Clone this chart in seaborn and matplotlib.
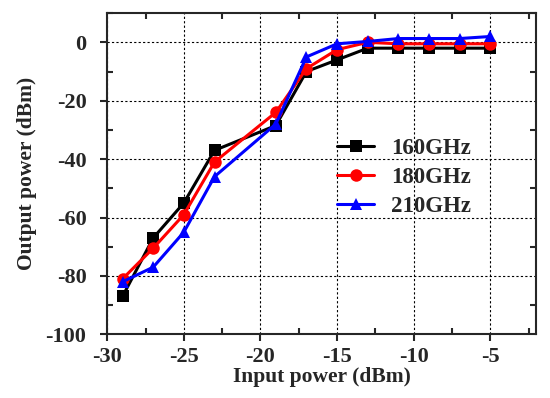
import pandas as pd
import seaborn as sns
import matplotlib.pyplot as plt
from matplotlib.ticker import MultipleLocator

# Data
input_power = [-29, -27, -25, -23, -19, -17, -15, -13, -11, -9, -7, -5]
out_160 = [-87, -67, -55, -37, -28.5, -10, -6, -2, -2, -2, -2, -2]
out_180 = [-81, -70.5, -59, -41, -24, -9, -2.5, 0, -0.5, -0.5, -0.5, -0.5]
out_210 = [-82, -77, -65, -46, -28, -5, -0.5, 0.3, 1.3, 1.3, 1.3, 2]
series_names = ['160GHz', '180GHz', '210GHz']

df = pd.concat([
    pd.DataFrame({'Input': input_power, 'Output': vals, 'Freq': name})
    for name, vals in zip(series_names, [out_160, out_180, out_210])
], ignore_index=True)

sns.set_theme(style="ticks")
plt.rcParams['font.family'] = ['Liberation Serif', 'DejaVu Serif']
plt.rcParams['font.weight'] = 'bold'
plt.rcParams['axes.unicode_minus'] = False

fig, ax = plt.subplots(figsize=(5.5, 3.98), dpi=100)

palette = {'160GHz': 'black', '180GHz': 'red', '210GHz': 'blue'}
markers = {'160GHz': 's', '180GHz': 'o', '210GHz': '^'}
sns.lineplot(data=df, x='Input', y='Output', hue='Freq', style='Freq',
             palette=palette, markers=markers, dashes=False, linewidth=2.2,
             markersize=9, markeredgewidth=0, errorbar=None, ax=ax)

ax.set_xlim(-30, -2)
ax.set_ylim(-100, 10)
ax.xaxis.set_major_locator(MultipleLocator(5))
ax.xaxis.set_minor_locator(MultipleLocator(2.5))
ax.yaxis.set_major_locator(MultipleLocator(20))
ax.yaxis.set_minor_locator(MultipleLocator(10))
ax.grid(True, which='major', linestyle=(0, (2, 2)), color='black', linewidth=0.8)
# major ticks outward on bottom/left, minor ticks inward on all sides
ax.tick_params(which='major', direction='out', length=5, width=1.5, pad=4,
               labelsize=16, top=False, right=False)
ax.tick_params(axis='y', which='major', pad=10)
ax.tick_params(which='minor', direction='in', length=4, width=1.5,
               top=True, right=True, bottom=True, left=True)
for sp in ax.spines.values():
    sp.set_linewidth(1.5)
for lbl in ax.get_xticklabels() + ax.get_yticklabels():
    lbl.set_fontweight('bold')

ax.set_xlabel('Input power (dBm)', fontsize=15.5, fontweight='bold', labelpad=0)
ax.set_ylabel('Output power (dBm)', fontsize=15.5, fontweight='bold', labelpad=6)

leg = ax.legend(loc='upper left', bbox_to_anchor=(0.515, 0.64), frameon=False,
                fontsize=16.5, handlelength=1.6, handletextpad=0.75,
                labelspacing=0.35, borderaxespad=0)
for t in leg.get_texts():
    t.set_fontweight('bold')

fig.subplots_adjust(left=0.195, right=0.975, bottom=0.16, top=0.967)
fig.savefig('out.png', dpi=100)
